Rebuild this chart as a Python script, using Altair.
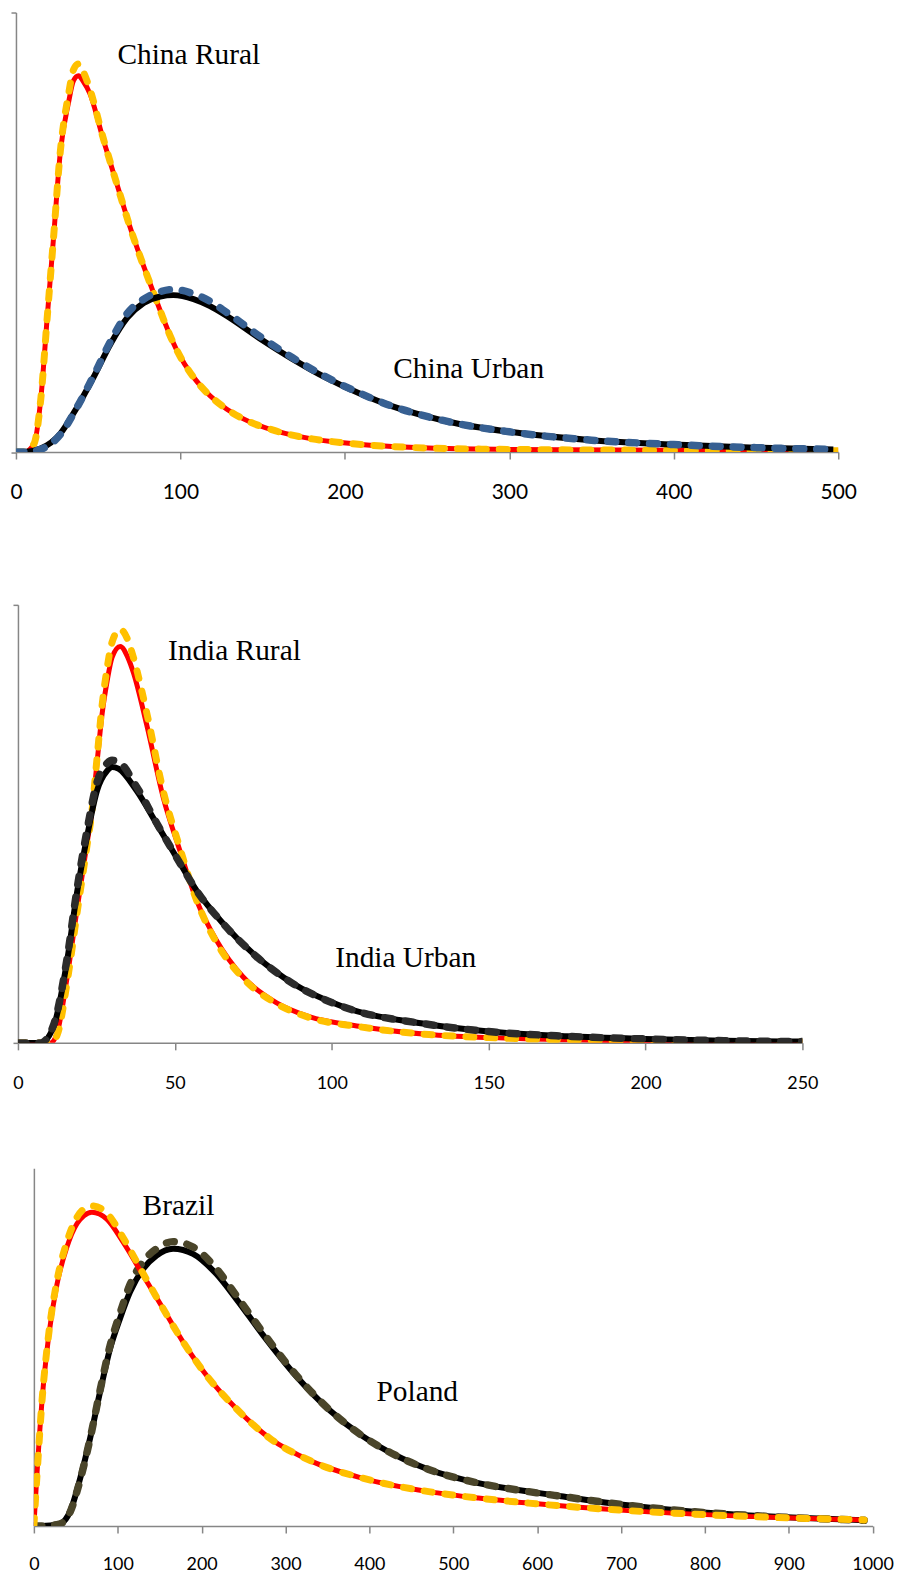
import altair as alt
import pandas as pd

# ---------------- data (y = relative density, % of axis height) -------------
# Panel 1: China
cr_x = [0, 5, 11, 15, 19, 23, 27, 32, 35, 38, 41, 45, 53, 61.5, 69.6, 81.7, 97.9, 108, 118, 128, 138, 158, 180, 199, 251, 300, 400, 500]
cr_y = [0, 0, 1.9, 11.7, 30.6, 49.5, 68.3, 79.6, 84.5, 85.6, 84.3, 81.5, 71.2, 60.8, 50.9, 38.2, 23.1, 17.0, 12.8, 9.8, 7.6, 4.8, 3.0, 2.1, 0.9, 0.6, 0.4, 0.3]
cr_fit_y = [0, 0, 1.9, 11.7, 30.6, 49.5, 68.5, 81.5, 87.0, 88.3, 86.5, 82.5, 71.5, 60.8, 50.9, 38.2, 23.1, 17.0, 12.8, 9.8, 7.6, 4.8, 3.0, 2.1, 0.9, 0.6, 0.4, 0.3]

cu_x = [0, 5, 15, 27, 37, 47, 57.5, 67.6, 77.7, 87.8, 95.7, 108, 118, 128, 148, 168, 189, 209, 229, 251, 263, 300, 350, 400, 450, 497]
cu_y = [0, 0, 0.8, 4.2, 10.1, 16.9, 24.6, 30.5, 33.9, 35.4, 35.7, 34.8, 33.2, 31.0, 25.9, 21.2, 16.8, 13.3, 10.4, 8.0, 6.9, 4.6, 2.7, 1.7, 1.0, 0.6]
cu_fit_y = [0, 0, 0.6, 4.0, 10.1, 17.2, 25.2, 31.5, 34.8, 36.5, 37.0, 36.0, 34.3, 31.8, 26.4, 21.5, 17.0, 13.4, 10.4, 8.0, 6.9, 4.6, 2.7, 1.7, 1.0, 0.6]

# Panel 2: India
ir_x = [0, 5, 10.4, 12.5, 15.7, 18.8, 22, 23.6, 25.2, 26.8, 28.4, 30, 32.6, 35, 36.8, 41, 46.3, 51.6, 56.9, 63.2, 71.7, 82.3, 92.8, 108.7, 131, 150, 175, 200, 225, 250]
ir_y = [0, 0, 0, 2.3, 15.1, 30.3, 45.5, 53, 64, 75, 82.5, 88, 90.5, 88, 84.5, 72.7, 56, 43.9, 32.6, 23.5, 15.1, 9.2, 6.0, 3.8, 1.9, 1.2, 0.7, 0.4, 0.3, 0.2]
ir_fit_y = [0, 0, 0, 1.8, 14.0, 29.5, 45.0, 53, 65, 77, 85.5, 91.5, 94.4, 92.0, 88.0, 75.5, 57.5, 44.5, 32.6, 23.0, 14.8, 9.0, 5.8, 3.7, 1.9, 1.2, 0.7, 0.4, 0.3, 0.2]

iu_x = [0, 5, 7.2, 11.4, 15.7, 18.8, 22, 25.2, 28.4, 30, 32, 37.8, 44.2, 50.5, 56.9, 65.3, 76, 87.5, 103.4, 131, 150, 175, 200, 225, 250]
iu_y = [0, 0, 0, 3.8, 18.9, 34.2, 47, 57.6, 62.1, 63, 62.6, 57.6, 50, 42.4, 34.8, 27.3, 19.7, 13.6, 8.3, 4.2, 2.6, 1.5, 0.9, 0.5, 0.3]
iu_fit_y = [0, 0, 0, 4.2, 19.5, 35.0, 48.5, 59.5, 63.8, 64.5, 64.2, 58.5, 50.2, 42.4, 34.8, 27.3, 19.7, 13.6, 8.3, 4.2, 2.6, 1.5, 0.9, 0.5, 0.3]

# Panel 3: Brazil and Poland
br_x = [0, 3.8, 9.7, 17.6, 27.5, 39.4, 51.3, 60, 69.1, 86.9, 106.6, 130.4, 154, 177.8, 205.5, 241, 280.8, 332, 391.5, 470.7, 530, 590, 708, 826, 990]
br_y = [0, 15, 35, 53, 67.5, 78, 84.5, 86.8, 87.7, 85.8, 79.3, 70, 60.8, 51.5, 42.2, 32.9, 24.6, 18.0, 13.4, 9.6, 7.8, 6.4, 4.3, 2.9, 1.7]
br_fit_y = [0, 14.5, 35, 53.5, 68.5, 79.5, 86.3, 88.7, 89.5, 87.5, 80.5, 70.5, 60.8, 51.5, 42.2, 32.9, 24.6, 18.0, 13.4, 9.6, 7.8, 6.4, 4.3, 2.9, 1.7]

pl_x = [0, 9.3, 30, 43.4, 55.3, 67.1, 79, 90.9, 102.7, 114.6, 130.4, 146.2, 166, 189.7, 217.4, 241.2, 272.8, 312.3, 351.9, 391.5, 431, 470.7, 530, 590, 628.7, 708, 787, 866, 990]
pl_y = [0, 0, 0.5, 4.2, 13.4, 24.6, 37.6, 49.6, 58, 65.4, 71.9, 75.6, 77.5, 76.1, 70.5, 63.5, 53.5, 42.0, 32.5, 25.2, 19.8, 15.8, 12.0, 9.6, 8.3, 5.8, 4.0, 2.8, 1.6]
pl_fit_y = [0, 0, 0.5, 4.0, 13.0, 24.5, 38.0, 50.5, 59.5, 67.5, 74.0, 77.5, 79.5, 78.0, 72.0, 64.5, 54.2, 42.3, 32.6, 25.2, 19.8, 15.8, 12.0, 9.6, 8.3, 5.8, 4.0, 2.8, 1.6]

# annotation labels (data coordinates of each panel)
lab1_text = ["China Rural", "China Urban"]
lab1_x = [61.7, 229.4]
lab1_y = [88.4, 16.9]
lab2_text = ["India Rural", "India Urban"]
lab2_x = [47.8, 101.1]
lab2_y = [87.3, 17.4]
lab3_text = ["Brazil", "Poland"]
lab3_x = [129.6, 408.5]
lab3_y = [87.0, 34.9]

x_ticks1 = [0, 100, 200, 300, 400, 500]
x_ticks2 = [0, 50, 100, 150, 200, 250]
x_ticks3 = [0, 100, 200, 300, 400, 500, 600, 700, 800, 900, 1000]

AXIS_GREY = "#868686"
Y_EXTENT = 6.5


def series(xs, ys):
    return pd.DataFrame({"x": xs, "y": ys})


def spacer(w):
    return alt.Chart(pd.DataFrame({"a": [0]})).mark_rule(opacity=0, strokeWidth=0).encode(
        x=alt.value(0), x2=alt.value(w), y=alt.value(0)).properties(width=w, height=1)


def panel(xmax, xticks, label_size, label_pad, x_extent, y_ticks, width, height,
          lines, labels):
    xenc = alt.X("x:Q", scale=alt.Scale(domain=[0, xmax], nice=False, zero=False),
                 axis=alt.Axis(values=xticks, title=None, grid=False, labelFont="Lato",
                               labelFontSize=label_size, labelColor="black",
                               labelPadding=label_pad, labelFlush=False, labelOverlap=False,
                               tickSize=7, tickColor=AXIS_GREY, tickWidth=1.5,
                               domainColor=AXIS_GREY, domainWidth=1.5,
                               minExtent=x_extent, maxExtent=x_extent, format="d"))
    yaxis = dict(title=None, grid=False, labels=False, domainColor=AXIS_GREY, domainWidth=1.5,
                 minExtent=Y_EXTENT, maxExtent=Y_EXTENT)
    if y_ticks:
        yaxis.update(values=[0, 100], ticks=True, tickSize=5, tickColor=AXIS_GREY, tickWidth=1.5)
    else:
        yaxis.update(ticks=False)
    yenc = alt.Y("y:Q", scale=alt.Scale(domain=[0, 100], nice=False), axis=alt.Axis(**yaxis))
    layers = []
    for df, color, sw, dash in lines:
        kw = dict(color=color, strokeWidth=sw, interpolate="monotone", clip=True)
        if dash:
            kw.update(strokeDash=dash, strokeCap="round")
        layers.append(alt.Chart(df).mark_line(**kw).encode(x=xenc, y=yenc))
    txt = alt.Chart(labels).mark_text(font="Liberation Serif", fontSize=29.5, align="left",
                                      baseline="alphabetic", color="black").encode(
        x=xenc, y=yenc, text="t:N")
    layers.append(txt)
    return alt.layer(*layers).properties(width=width, height=height)


DASH = [8, 13]

p1 = panel(500, x_ticks1, 21, 23, 151.8, True, 826, 441.5,
           [(series(cr_x, cr_y), "#FF0000", 5, None),
            (series(cr_x, cr_fit_y), "#FFC000", 7, DASH),
            (series(cu_x, cu_y), "#000000", 6, None),
            (series(cu_x, cu_fit_y), "#376092", 7.5, DASH)],
           pd.DataFrame({"x": lab1_x, "y": lab1_y, "t": lab1_text}))

p2 = panel(250, x_ticks2, 18, 25, 125.7, True, 788, 440,
           [(series(ir_x, ir_y), "#FF0000", 5, None),
            (series(ir_x, ir_fit_y), "#FFC000", 7, DASH),
            (series(iu_x, iu_y), "#000000", 6, None),
            (series(iu_x, iu_fit_y), "#2B2B2B", 7.5, DASH)],
           pd.DataFrame({"x": lab2_x, "y": lab2_y, "t": lab2_text}))

p3 = panel(1000, x_ticks3, 18, 23, 38, False, 842.5, 359.3,
           [(series(pl_x, pl_y), "#000000", 6, None),
            (series(pl_x, pl_fit_y), "#4A452A", 7.5, DASH),
            (series(br_x, br_y), "#FF0000", 5, None),
            (series(br_x, br_fit_y), "#FFC000", 7, DASH)],
           pd.DataFrame({"x": lab3_x, "y": lab3_y, "t": lab3_text}))

row1 = alt.hconcat(spacer(7 - Y_EXTENT), p1, spacing=0)
row2 = alt.hconcat(spacer(9.3 - Y_EXTENT), p2, spacing=0)
row3 = alt.hconcat(spacer(25.5 - Y_EXTENT), p3, spacing=0)

chart = alt.vconcat(row1, row2, row3, spacing=0).properties(
    padding={"left": 0, "top": 0, "right": 0, "bottom": 0}
).configure_view(strokeWidth=0, stroke="transparent")

chart.save("out.html", embed_options={"renderer": "svg", "actions": False})
